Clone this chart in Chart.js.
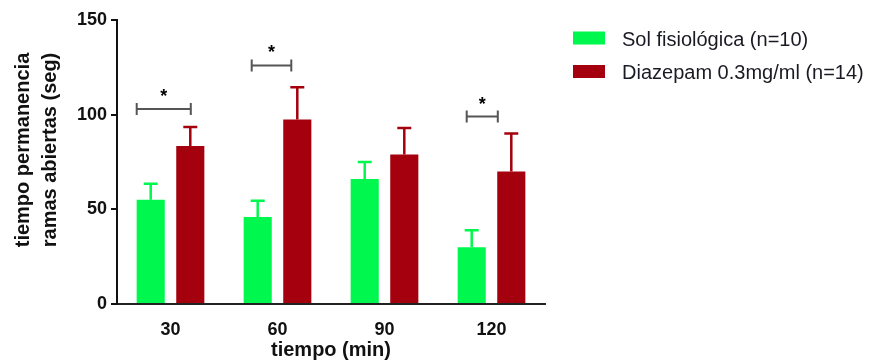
<!DOCTYPE html>
<html>
<head>
<meta charset="utf-8">
<script src="https://cdn.jsdelivr.net/npm/chart.js@4/dist/chart.umd.min.js"></script>
<style>
  html, body { margin: 0; padding: 0; background: #fff; }
  #wrap { width: 876px; height: 360px; position: relative; }
</style>
</head>
<body>
<div id="wrap"><canvas id="c" width="876" height="360"></canvas></div>
<script>
// ---- data ----
const categories = ['30', '60', '90', '120'];
const seriesNames = ['Sol fisiológica (n=10)', 'Diazepam 0.3mg/ml (n=14)'];
const salineMean = [55, 46, 66, 30];
const salineErr  = [8.5, 8.5, 9, 9];
const diazMean   = [83.5, 97.5, 79, 70];
const diazErr    = [10, 17, 14, 20];
const sigCategory = [0, 1, 3];
const sigLevel    = [103, 126, 99];
const sigLabel    = ['*', '*', '*'];
const yTicks = [0, 50, 100, 150];
const yTitleLines = ['tiempo permanencia', 'ramas abiertas (seg)'];
const xTitle = 'tiempo (min)';

const colors = ['#00F84E', '#A4000E'];
const FONT = '"Liberation Sans", Arial, Helvetica, sans-serif';

// bracket horizontal offsets relative to the two bars of each group (px)
const bracketOffsets = [[-14, 0.5], [-6, -6], [-5, -13.5]];

const errorBars = {
  id: 'errorBars',
  afterDatasetsDraw(chart) {
    const ctx = chart.ctx;
    const y = chart.scales.y;
    const errs = [salineErr, diazErr];
    chart.data.datasets.forEach((ds, di) => {
      const meta = chart.getDatasetMeta(di);
      meta.data.forEach((bar, i) => {
        const top = y.getPixelForValue(ds.data[i]);
        const et = y.getPixelForValue(ds.data[i] + errs[di][i]);
        ctx.save();
        ctx.strokeStyle = ds.backgroundColor;
        ctx.lineWidth = 2.5;
        ctx.beginPath();
        ctx.moveTo(bar.x, top);
        ctx.lineTo(bar.x, et);
        ctx.moveTo(bar.x - 7, et);
        ctx.lineTo(bar.x + 7, et);
        ctx.stroke();
        ctx.restore();
      });
    });
    // significance brackets
    const m0 = chart.getDatasetMeta(0), m1 = chart.getDatasetMeta(1);
    sigCategory.forEach((ci, k) => {
      const x1 = m0.data[ci].x + bracketOffsets[k][0];
      const x2 = m1.data[ci].x + bracketOffsets[k][1];
      const by = y.getPixelForValue(sigLevel[k]);
      ctx.save();
      ctx.strokeStyle = '#555';
      ctx.lineWidth = 2;
      ctx.beginPath();
      ctx.moveTo(x1, by); ctx.lineTo(x2, by);
      ctx.moveTo(x1, by - 6); ctx.lineTo(x1, by + 6);
      ctx.moveTo(x2, by - 6); ctx.lineTo(x2, by + 6);
      ctx.stroke();
      ctx.fillStyle = '#000';
      ctx.font = 'bold 18px ' + FONT;
      ctx.textAlign = 'center';
      ctx.textBaseline = 'alphabetic';
      ctx.fillText(sigLabel[k], (x1 + x2) / 2, by - 7);
      ctx.restore();
    });
  }
};

const customText = {
  id: 'customText',
  afterDraw(chart) {
    const ctx = chart.ctx;
    // legend
    const bx = chart.chartArea.right + 28;
    chart.data.datasets.forEach((ds, i) => {
      const cy = 38 + i * 33.5;
      ctx.save();
      ctx.fillStyle = ds.backgroundColor;
      ctx.fillRect(bx, cy - 6.5, 32, 13);
      ctx.fillStyle = '#1a1a24';
      ctx.font = '20px ' + FONT;
      ctx.textAlign = 'left';
      ctx.textBaseline = 'middle';
      ctx.fillText(ds.label, bx + 49, cy + 2);
      ctx.restore();
    });
    // y-axis title (two lines)
    ctx.save();
    ctx.translate(23, 150);
    ctx.rotate(-Math.PI / 2);
    ctx.fillStyle = '#111';
    ctx.font = 'bold 20px ' + FONT;
    ctx.textAlign = 'center';
    ctx.textBaseline = 'middle';
    yTitleLines.forEach((t, i) => ctx.fillText(t, 0, i * 27));
    ctx.restore();
  }
};

new Chart(document.getElementById('c'), {
  type: 'bar',
  data: {
    labels: categories,
    datasets: [
      { label: seriesNames[0], data: salineMean, backgroundColor: colors[0] },
      { label: seriesNames[1], data: diazMean, backgroundColor: colors[1] }
    ]
  },
  options: {
    responsive: false,
    animation: false,
    events: [],
    layout: { padding: { top: 20, right: 331, left: 0, bottom: 0 } },
    categoryPercentage: 0.74,
    barPercentage: 0.71,
    plugins: { legend: { display: false }, tooltip: { enabled: false } },
    scales: {
      x: {
        grid: { display: false, drawTicks: false },
        border: { display: true, color: '#222', width: 2 },
        ticks: { color: '#111', font: { family: FONT, size: 18, weight: 'bold' }, padding: 15 },
        title: { display: true, text: xTitle, color: '#111',
                 font: { family: FONT, size: 20, weight: 'bold', lineHeight: 1 },
                 padding: { top: 0, bottom: 0 } },
        afterFit(s) { s.height = 56; }
      },
      y: {
        min: 0, max: 150,
        afterBuildTicks(s) { s.ticks = yTicks.map(v => ({ value: v })); },
        grid: { display: true, drawOnChartArea: false, drawTicks: true, tickLength: 6, color: '#111', lineWidth: 2 },
        border: { display: true, color: '#111', width: 2 },
        ticks: { color: '#111', font: { family: FONT, size: 18, weight: 'bold' }, padding: 4 },
        title: { display: false },
        afterFit(s) { s.width = 117; }
      }
    }
  },
  plugins: [errorBars, customText]
});
</script>
</body>
</html>
